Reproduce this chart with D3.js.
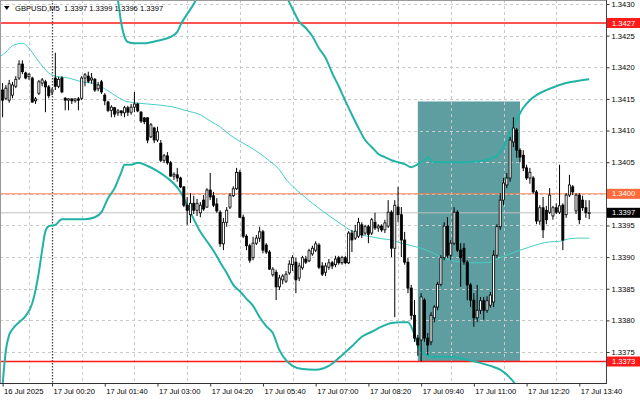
<!DOCTYPE html>
<html><head><meta charset="utf-8">
<script src="https://cdn.jsdelivr.net/npm/d3@7"></script>
<style>
html,body{margin:0;padding:0;background:#fff;}
svg{display:block;font-family:"Liberation Sans",Arial,sans-serif;}
</style></head><body>
<svg id="c" width="640" height="401"></svg>
<script>
// ---------------- DATA ----------------
const symbolTitle = "GBPUSD,M5";
const firstBarTime = "2025-07-16T23:05:00Z";
const barMinutes = 5;

// [open, high, low, close] per M5 bar
const candles = [
[1.34164,1.34175,1.34121,1.34148],[1.34151,1.34172,1.34148,1.34167],[1.34148,1.34180,1.34144,1.34174],[1.34156,1.34177,1.34151,1.34172],
[1.34170,1.34186,1.34167,1.34181],[1.34183,1.34211,1.34180,1.34205],[1.34205,1.34211,1.34189,1.34193],[1.34191,1.34193,1.34181,1.34183],
[1.34185,1.34191,1.34180,1.34189],[1.34183,1.34185,1.34144,1.34145],[1.34147,1.34153,1.34142,1.34150],[1.34159,1.34180,1.34156,1.34177],
[1.34175,1.34183,1.34170,1.34180],[1.34177,1.34180,1.34129,1.34169],[1.34169,1.34172,1.34151,1.34155],[1.34161,1.34167,1.34156,1.34164],
[1.34183,1.34223,1.34164,1.34170],[1.34170,1.34185,1.34167,1.34181],[1.34183,1.34186,1.34159,1.34161],[1.34151,1.34153,1.34132,1.34148],
[1.34148,1.34151,1.34132,1.34150],[1.34150,1.34151,1.34142,1.34147],[1.34147,1.34151,1.34144,1.34150],[1.34150,1.34153,1.34132,1.34148],
[1.34151,1.34186,1.34148,1.34183],[1.34183,1.34191,1.34170,1.34188],[1.34186,1.34193,1.34175,1.34178],[1.34180,1.34191,1.34174,1.34183],
[1.34181,1.34183,1.34161,1.34164],[1.34166,1.34177,1.34162,1.34172],[1.34177,1.34180,1.34158,1.34161],[1.34156,1.34159,1.34140,1.34147],
[1.34145,1.34147,1.34129,1.34132],[1.34132,1.34140,1.34121,1.34137],[1.34136,1.34137,1.34121,1.34126],[1.34128,1.34134,1.34123,1.34131],
[1.34131,1.34132,1.34123,1.34128],[1.34128,1.34139,1.34121,1.34136],[1.34136,1.34139,1.34123,1.34129],[1.34129,1.34142,1.34125,1.34137],
[1.34137,1.34161,1.34129,1.34142],[1.34142,1.34144,1.34129,1.34131],[1.34129,1.34131,1.34112,1.34115],[1.34120,1.34121,1.34110,1.34114],
[1.34120,1.34121,1.34080,1.34085],[1.34090,1.34112,1.34088,1.34109],[1.34104,1.34106,1.34080,1.34085],[1.34085,1.34106,1.34082,1.34098],
[1.34080,1.34085,1.34050,1.34053],[1.34053,1.34063,1.34049,1.34060],[1.34060,1.34066,1.34046,1.34049],[1.34049,1.34052,1.34027,1.34028],
[1.34028,1.34034,1.34022,1.34031],[1.34030,1.34041,1.34019,1.34025],[1.34025,1.34027,1.34009,1.34011],[1.34011,1.34012,1.33979,1.33982],
[1.33982,1.33995,1.33951,1.33974],[1.33967,1.34001,1.33954,1.33985],[1.33985,1.33997,1.33968,1.33974],[1.33974,1.33992,1.33965,1.33985],
[1.33970,1.33987,1.33963,1.33982],[1.33990,1.33998,1.33973,1.33976],[1.33979,1.34009,1.33978,1.34006],[1.34006,1.34033,1.33990,1.33995],
[1.33997,1.34003,1.33979,1.33982],[1.33984,1.33993,1.33970,1.33973],[1.33971,1.33974,1.33916,1.33921],[1.33921,1.33962,1.33911,1.33955],
[1.33955,1.33979,1.33948,1.33974],[1.33979,1.34001,1.33976,1.33997],[1.33997,1.34012,1.33995,1.34008],[1.34008,1.34041,1.34006,1.34034],
[1.34034,1.34038,1.33962,1.33963],[1.33963,1.33967,1.33930,1.33933],[1.33933,1.33936,1.33911,1.33918],[1.33918,1.33921,1.33891,1.33895],
[1.33899,1.33932,1.33895,1.33922],[1.33922,1.33935,1.33919,1.33930],[1.33930,1.33948,1.33924,1.33940],[1.33940,1.33943,1.33906,1.33911],
[1.33919,1.33922,1.33905,1.33908],[1.33908,1.33911,1.33880,1.33881],[1.33872,1.33884,1.33869,1.33881],[1.33876,1.33880,1.33832,1.33853],
[1.33853,1.33872,1.33848,1.33867],[1.33864,1.33873,1.33857,1.33870],[1.33862,1.33878,1.33859,1.33873],[1.33875,1.33895,1.33872,1.33889],
[1.33888,1.33903,1.33878,1.33899],[1.33892,1.33899,1.33843,1.33864],[1.33867,1.33891,1.33862,1.33886],[1.33883,1.33902,1.33880,1.33899],
[1.33897,1.33902,1.33889,1.33892],[1.33894,1.33913,1.33892,1.33910],[1.33905,1.33918,1.33902,1.33914],[1.33911,1.33925,1.33908,1.33921],
[1.33919,1.33922,1.33881,1.33884],[1.33886,1.33892,1.33870,1.33873],[1.33876,1.33891,1.33870,1.33886],[1.33884,1.33897,1.33880,1.33891],
[1.33891,1.33894,1.33881,1.33886],[1.33888,1.33902,1.33884,1.33897],[1.33899,1.33902,1.33888,1.33891],[1.33891,1.33902,1.33888,1.33899],
[1.33899,1.33902,1.33889,1.33891],[1.33891,1.33941,1.33889,1.33938],[1.33938,1.33943,1.33908,1.33927],[1.33930,1.33951,1.33927,1.33941],
[1.33933,1.33962,1.33930,1.33955],[1.33951,1.33955,1.33930,1.33935],[1.33938,1.33951,1.33935,1.33948],[1.33948,1.33951,1.33922,1.33936],
[1.33938,1.33962,1.33935,1.33959],[1.33955,1.33970,1.33943,1.33946],[1.33946,1.33952,1.33940,1.33949],[1.33949,1.33952,1.33940,1.33943],
[1.33943,1.33959,1.33938,1.33954],[1.33949,1.33990,1.33946,1.33971],[1.33971,1.33974,1.33900,1.33914],[1.33914,1.33990,1.33805,1.33982],
[1.33979,1.34011,1.33955,1.33967],[1.33967,1.33979,1.33900,1.33927],[1.33927,1.33940,1.33888,1.33892],[1.33892,1.33899,1.33843,1.33851],
[1.33851,1.33856,1.33801,1.33808],[1.33808,1.33832,1.33766,1.33772],[1.33772,1.33777,1.33744,1.33761],[1.33769,1.33843,1.33735,1.33837],
[1.33832,1.33835,1.33766,1.33772],[1.33772,1.33780,1.33745,1.33761],[1.33766,1.33813,1.33761,1.33808],[1.33804,1.33824,1.33797,1.33821],
[1.33821,1.33861,1.33816,1.33857],[1.33857,1.33903,1.33854,1.33899],[1.33899,1.33955,1.33895,1.33949],[1.33949,1.33963,1.33899,1.33903],
[1.33903,1.33927,1.33895,1.33922],[1.33922,1.33979,1.33919,1.33971],[1.33971,1.33974,1.33908,1.33911],[1.33911,1.33922,1.33853,1.33899],
[1.33914,1.33922,1.33888,1.33892],[1.33892,1.33895,1.33832,1.33856],[1.33856,1.33859,1.33821,1.33832],[1.33832,1.33843,1.33790,1.33804],
[1.33804,1.33856,1.33797,1.33816],[1.33816,1.33837,1.33810,1.33831],[1.33831,1.33837,1.33801,1.33816],[1.33816,1.33838,1.33812,1.33831],
[1.33824,1.33845,1.33820,1.33840],[1.33829,1.33911,1.33821,1.33903],[1.33903,1.33952,1.33899,1.33948],[1.33948,1.34001,1.33943,1.33990],
[1.33990,1.34025,1.33982,1.34017],[1.34014,1.34033,1.34009,1.34025],[1.34025,1.34090,1.34019,1.34085],[1.34082,1.34121,1.34074,1.34104],
[1.34101,1.34104,1.34057,1.34069],[1.34069,1.34072,1.34050,1.34058],[1.34061,1.34069,1.34036,1.34041],[1.34041,1.34046,1.34022,1.34025],
[1.34025,1.34041,1.34016,1.34034],[1.34025,1.34028,1.34000,1.34003],[1.34003,1.34006,1.33952,1.33957],[1.33957,1.33982,1.33951,1.33978],
[1.33978,1.33995,1.33930,1.33943],[1.33974,1.33981,1.33952,1.33959],[1.33971,1.34009,1.33968,1.33998],[1.33965,1.33981,1.33959,1.33978],
[1.33978,1.33985,1.33968,1.33971],[1.33971,1.34046,1.33968,1.33981],[1.33982,1.33985,1.33911,1.33927],[1.33967,1.34001,1.33962,1.33998],
[1.33998,1.34030,1.33995,1.34014],[1.34011,1.34014,1.33998,1.34003],[1.33973,1.34001,1.33968,1.33998],[1.33998,1.34001,1.33952,1.33959],
[1.33990,1.33997,1.33973,1.33978],[1.33978,1.33990,1.33962,1.33970],[1.33970,1.33990,1.33960,1.33970]
];

// Bollinger bands: [bar index, price]; null = gap (off chart)
const upperBand = [
[33,1.34338],[35,1.34306],[36,1.34270],[37,1.34248],[38,1.34240],[40,1.34238],[43,1.34238],[47,1.34242],[51,1.34248],
[53,1.34256],[54,1.34267],[56,1.34284],[58,1.34300],[60,1.34322],[63,1.34354],[70,null],
[84,1.34333],[86,1.34313],[88,1.34292],[90,1.34272],[92,1.34262],[94,1.34249],[96,1.34230],[98,1.34215],[100,1.34191],
[102,1.34170],[104,1.34147],[106,1.34125],[108,1.34104],[110,1.34085],[112,1.34074],[114,1.34063],[116,1.34058],
[118,1.34053],[120,1.34050],[122,1.34047],[124,1.34042],[126,1.34047],[128,1.34053],[129,1.34058],[130,1.34053],
[131,1.34050],[135,1.34050],[140,1.34050],[145,1.34052],[148,1.34055],[150,1.34060],[152,1.34074],[154,1.34096],
[156,1.34117],[158,1.34136],[160,1.34148],[162,1.34156],[165,1.34164],[168,1.34170],[171,1.34175],[174,1.34178],[178,1.34181]
];
const middleBand = [
[-1,1.34216],[1,1.34224],[3,1.34234],[6,1.34238],[8,1.34230],[10,1.34216],[12,1.34202],[14,1.34191],[16,1.34186],
[20,1.34183],[24,1.34177],[28,1.34174],[31,1.34166],[34,1.34156],[37,1.34147],[40,1.34144],[44,1.34142],[48,1.34140],
[52,1.34137],[56,1.34131],[60,1.34125],[63,1.34115],[66,1.34106],[69,1.34093],[72,1.34083],[75,1.34074],[78,1.34064],
[81,1.34052],[84,1.34038],[86,1.34023],[88,1.34012],[91,1.33998],[94,1.33985],[97,1.33973],[100,1.33962],[103,1.33951],
[106,1.33941],[109,1.33935],[112,1.33932],[115,1.33929],[118,1.33927],[121,1.33922],[124,1.33918],[127,1.33914],
[130,1.33908],[133,1.33900],[136,1.33895],[139,1.33892],[142,1.33891],[145,1.33891],[148,1.33892],[151,1.33899],
[154,1.33905],[157,1.33911],[160,1.33916],[163,1.33921],[166,1.33924],[169,1.33925],[172,1.33929],[175,1.33930],[178,1.33930]
];
const lowerBand = [
[0,1.33698],[1,1.33753],[2,1.33777],[3,1.33786],[5,1.33797],[7,1.33807],[9,1.33827],[10,1.33848],[11,1.33876],
[12,1.33911],[13,1.33941],[14,1.33949],[16,1.33951],[18,1.33960],[21,1.33960],[25,1.33960],[28,1.33963],[30,1.33971],
[32,1.33993],[34,1.34009],[36,1.34034],[37,1.34046],[39,1.34046],[41,1.34049],[44,1.34044],[47,1.34036],[50,1.34025],
[52,1.34016],[54,1.34003],[56,1.33982],[58,1.33960],[60,1.33940],[62,1.33925],[64,1.33910],[66,1.33892],[68,1.33875],
[70,1.33856],[72,1.33846],[74,1.33834],[76,1.33823],[78,1.33805],[80,1.33791],[82,1.33780],[84,1.33753],[86,1.33737],
[88,1.33728],[91,1.33723],[95,1.33722],[99,1.33728],[103,1.33745],[106,1.33759],[109,1.33774],[112,1.33782],[115,1.33790],
[118,1.33796],[121,1.33797],[123,1.33797],[125,1.33777],[126,1.33761],[127,1.33752],[129,1.33744],[132,1.33742],
[136,1.33742],[140,1.33739],[144,1.33734],[148,1.33728],[151,1.33722],[154,1.33709],[156,1.33696],[158,1.33680]
];

const yTicks = [1.3430,1.3425,1.3420,1.3415,1.3410,1.3405,1.3400,1.3395,1.3390,1.3385,1.3380,1.3375];
const xTickTimes = ["2025-07-16T23:05:00Z","2025-07-17T00:20:00Z","2025-07-17T01:40:00Z","2025-07-17T03:00:00Z","2025-07-17T04:20:00Z",
  "2025-07-17T05:40:00Z","2025-07-17T07:00:00Z","2025-07-17T08:20:00Z","2025-07-17T09:40:00Z","2025-07-17T11:00:00Z",
  "2025-07-17T12:20:00Z","2025-07-17T13:40:00Z"];
const xTickLabels = ["16 Jul 2025","17 Jul 00:20","17 Jul 01:40","17 Jul 03:00","17 Jul 04:20","17 Jul 05:40","17 Jul 07:00",
  "17 Jul 08:20","17 Jul 09:40","17 Jul 11:00","17 Jul 12:20","17 Jul 13:40"];
const separatorTime = "2025-07-17T00:20:00Z";

const hLinePrices = [1.3427, 1.3400, 1.33970, 1.33735];
const hLineLabels = ["1.3427","1.3400","1.3397","1.3373"];
const hLineKinds  = ["red","coral","bid","red"];

const rangeFrom = "2025-07-17T09:35:00Z", rangeTo = "2025-07-17T12:10:00Z";
const rangeTop = 1.34146, rangeBottom = 1.33735;

// ---------------- DRAW ----------------
const W = 640, H = 401;
const plotR = 606, plotB = 383;
const t0 = new Date(firstBarTime).getTime();
const barTime = i => new Date(t0 + i * barMinutes * 60000);

const x = d3.scaleUtc().domain([barTime(0), barTime(candles.length - 1)]).range([2.6, 589.2]);
const y = d3.scaleLinear().domain([1.3375, 1.3430]).range([352, 4]);

const svg = d3.select("#c");
svg.append("rect").attr("width", W).attr("height", H).attr("fill", "#fff");
svg.append("defs").append("clipPath").attr("id", "clip")
  .append("rect").attr("x", 0).attr("y", 0).attr("width", plotR).attr("height", plotB);
const g = svg.append("g").attr("clip-path", "url(#clip)");

// range rectangle
g.append("rect")
  .attr("x", x(new Date(rangeFrom)))
  .attr("width", x(new Date(rangeTo)) - x(new Date(rangeFrom)))
  .attr("y", y(rangeTop))
  .attr("height", y(rangeBottom) - y(rangeTop))
  .attr("fill", "#5F9EA0");

// grid
const snap = v => Math.round(v) + 0.5;
g.selectAll(".hg").data(yTicks).join("line")
  .attr("x1", 0).attr("x2", plotR)
  .attr("y1", d => snap(y(d))).attr("y2", d => snap(y(d)))
  .attr("stroke", "#c9c9c9").attr("stroke-dasharray", "3,3").attr("stroke-width", 1);
const gridTimes = xTickTimes.slice(1).map(t => new Date(new Date(t).getTime() - 7 * barMinutes * 60000));
g.selectAll(".vg").data(gridTimes).join("line")
  .attr("y1", 0).attr("y2", plotB)
  .attr("x1", d => snap(x(d))).attr("x2", d => snap(x(d)))
  .attr("stroke", "#c9c9c9").attr("stroke-dasharray", "3,3").attr("stroke-width", 1);

// period separator (dotted)
g.append("line")
  .attr("x1", snap(x(new Date(separatorTime)))).attr("x2", snap(x(new Date(separatorTime))))
  .attr("y1", 0).attr("y2", plotB)
  .attr("stroke", "#444").attr("stroke-width", 1.3).attr("stroke-dasharray", "1.5,1.5");

// horizontal lines
const lineStyle = {
  red:   {stroke: "#ff1a1a", width: 1.6, box: "#ff1a1a"},
  coral: {stroke: "#ff7f50", width: 1,   box: "#ff6a3a"},
  bid:   {stroke: "#c0c0c0", width: 1,   box: "#000000"}
};
hLinePrices.forEach((p, i) => {
  const s = lineStyle[hLineKinds[i]];
  g.append("line").attr("x1", 0).attr("x2", plotR)
    .attr("y1", y(p)).attr("y2", y(p))
    .attr("stroke", s.stroke).attr("stroke-width", s.width);
});

// bands
const line = d3.line()
  .defined(d => d[1] !== null)
  .x(d => x(barTime(d[0])))
  .y(d => y(d[1]))
  .curve(d3.curveMonotoneX);
g.append("path").attr("d", line(middleBand)).attr("fill", "none").attr("stroke", "#45cfc5").attr("stroke-width", 1);
g.append("path").attr("d", line(upperBand)).attr("fill", "none").attr("stroke", "#22b2a6").attr("stroke-width", 2);
g.append("path").attr("d", line(lowerBand)).attr("fill", "none").attr("stroke", "#22b2a6").attr("stroke-width", 2);

// candles
const cg = g.append("g");
candles.forEach((c, i) => {
  const [o, h, l, cl] = c;
  const cx = x(barTime(i));
  cg.append("line").attr("x1", cx).attr("x2", cx).attr("y1", y(h)).attr("y2", y(l))
    .attr("stroke", "#000").attr("stroke-width", 1);
  const top = y(Math.max(o, cl)), bot = y(Math.min(o, cl));
  const bull = cl >= o;
  cg.append("rect")
    .attr("x", cx - 1.05).attr("width", 2.1)
    .attr("y", top).attr("height", Math.max(0.6, bot - top))
    .attr("fill", bull ? "#fff" : "#000")
    .attr("stroke", "#000").attr("stroke-width", 0.8);
});

// frame
svg.append("line").attr("x1", 0.5).attr("x2", 0.5).attr("y1", 0).attr("y2", plotB).attr("stroke", "#999");
svg.append("line").attr("x1", 0).attr("x2", plotR).attr("y1", 0.5).attr("y2", 0.5).attr("stroke", "#999");
svg.append("line").attr("x1", plotR + 0.5).attr("x2", plotR + 0.5).attr("y1", 0).attr("y2", plotB + 1).attr("stroke", "#444");
svg.append("line").attr("x1", 0).attr("x2", plotR + 1).attr("y1", plotB + 0.5).attr("y2", plotB + 0.5).attr("stroke", "#333");

// axes
const fontSize = 7.6;
const yAxis = d3.axisRight(y).tickValues(yTicks).tickFormat(d3.format(".4f")).tickSize(3).tickPadding(2);
svg.append("g").attr("transform", `translate(${plotR + 0.5},0)`).call(yAxis)
  .call(a => a.select(".domain").remove())
  .call(a => a.selectAll("line").attr("stroke", "#333"))
  .call(a => a.selectAll("text").attr("fill", "#000").attr("font-size", fontSize).attr("font-family", "Liberation Sans, Arial, sans-serif"));

const xAxis = d3.axisBottom(x).tickValues(xTickTimes.map(t => new Date(t)))
  .tickFormat((d, i) => xTickLabels[i]).tickSize(3).tickPadding(2);
svg.append("g").attr("transform", `translate(0,${plotB + 0.5})`).call(xAxis)
  .call(a => a.select(".domain").remove())
  .call(a => a.selectAll("line").attr("stroke", "#333"))
  .call(a => a.selectAll("text").attr("fill", "#000").attr("font-size", fontSize)
    .attr("font-family", "Liberation Sans, Arial, sans-serif").attr("text-anchor", "start").attr("dx", 1));

// price label boxes
hLinePrices.forEach((p, i) => {
  const s = lineStyle[hLineKinds[i]];
  const yy = y(p);
  svg.append("rect").attr("x", plotR + 1).attr("y", yy - 5).attr("width", W - plotR - 1).attr("height", 10).attr("fill", s.box);
  svg.append("text").attr("x", plotR + 6).attr("y", yy).attr("dy", "0.35em")
    .attr("fill", "#fff").attr("font-size", fontSize).text(hLineLabels[i]);
});

// header
svg.append("path").attr("d", "M4,6 L9.5,6 L6.75,10 Z").attr("fill", "#000");
const last = candles[candles.length - 1];
const f4 = d3.format(".4f");
svg.append("text").attr("x", 15).attr("y", 10.5).attr("font-size", fontSize).attr("fill", "#000")
  .attr("xml:space", "preserve")
  .text(`${symbolTitle}  ${f4(last[0])} ${f4(last[1])} ${f4(last[2])} ${f4(last[3])}`);
</script>
</body></html>
